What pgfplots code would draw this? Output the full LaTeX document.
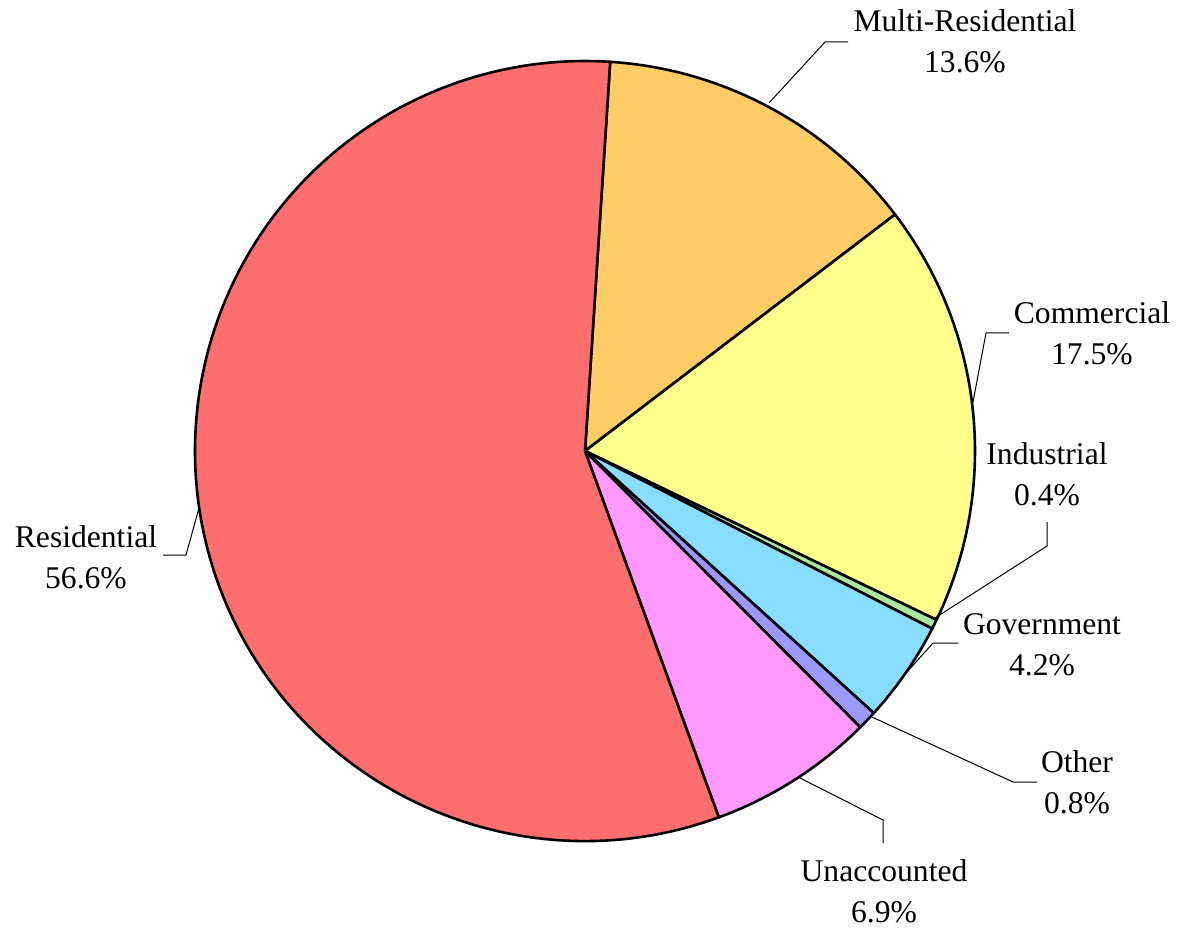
\documentclass[border=0pt]{standalone}
\usepackage{fontspec}
\setmainfont{Liberation Serif}
\usepackage{pgfplots}
\usepackage{pgfplotstable}
\pgfplotsset{compat=1.18}
\definecolor{cRes}{RGB}{255,110,110}
\definecolor{cMulti}{RGB}{255,204,102}
\definecolor{cCom}{RGB}{255,255,140}
\definecolor{cInd}{RGB}{170,232,160}
\definecolor{cGov}{RGB}{136,221,255}
\definecolor{cOth}{RGB}{153,153,255}
\definecolor{cUna}{RGB}{255,153,255}
\pgfplotstableread[col sep=comma]{
name,value,color
Multi-Residential,13.6,cMulti
Commercial,17.5,cCom
Industrial,0.4,cInd
Government,4.2,cGov
Other,0.8,cOth
Unaccounted,6.9,cUna
Residential,56.6,cRes
}\piedata
\begin{document}
\begin{tikzpicture}
\begin{axis}[
  scale only axis, width=588.5pt, height=464pt,
  xmin=0, xmax=1177, ymin=0, ymax=928,
  hide axis, clip=false,
]
\path (axis cs:0,0) rectangle (axis cs:1177,928);
\pgfplotsextra{
  \gdef\cur{86.3}
  \foreach \i in {0,...,6}{
    \pgfplotstablegetelem{\i}{value}\of\piedata \let\v\pgfplotsretval
    \pgfplotstablegetelem{\i}{color}\of\piedata \let\c\pgfplotsretval
    \pgfmathsetmacro\nxt{\cur-3.6*\v}
    \filldraw[fill=\c, draw=black, line width=1.3pt, line join=round]
      (axis cs:585,477) -- ++(\cur:195pt) arc[start angle=\cur, end angle=\nxt, radius=195pt] -- cycle;
    \xdef\cur{\nxt}
  }
}
% leader lines
\addplot[black, line width=0.5pt, mark=none] coordinates {(769,825) (825,886) (848,886)};
\addplot[black, line width=0.5pt, mark=none] coordinates {(973,526) (986,595) (1009,595)};
\addplot[black, line width=0.5pt, mark=none] coordinates {(935,310) (1047,382) (1047,406)};
\addplot[black, line width=0.5pt, mark=none] coordinates {(907,256) (933,285) (958,285)};
\addplot[black, line width=0.5pt, mark=none] coordinates {(872,211) (1013,146) (1037,146)};
\addplot[black, line width=0.5pt, mark=none] coordinates {(798,151) (883,108) (883,85)};
\addplot[black, line width=0.5pt, mark=none] coordinates {(199,420) (186,373) (163,373)};
% labels
\tikzset{lbl/.style={align=center, inner sep=0pt, font=\fontsize{15.8}{20.5}\selectfont}}
\node[lbl] at (axis cs:965,887) {Multi-Residential\\13.6\%};
\node[lbl] at (axis cs:1092,595) {Commercial\\17.5\%};
\node[lbl] at (axis cs:1047,454) {Industrial\\0.4\%};
\node[lbl] at (axis cs:1042,283) {Government\\4.2\%};
\node[lbl] at (axis cs:1077,146) {Other\\0.8\%};
\node[lbl] at (axis cs:884,37) {Unaccounted\\6.9\%};
\node[lbl] at (axis cs:86,371) {Residential\\56.6\%};
\end{axis}
\end{tikzpicture}
\end{document}
